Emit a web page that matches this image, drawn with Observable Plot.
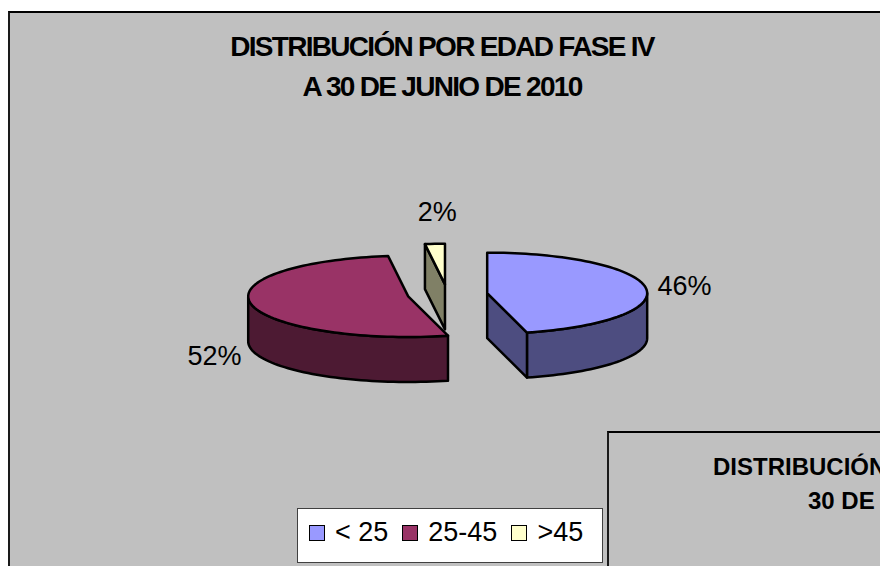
<!DOCTYPE html>
<html><head><meta charset="utf-8">
<script src="https://cdn.jsdelivr.net/npm/d3@7"></script>
<script src="https://cdn.jsdelivr.net/npm/@observablehq/plot@0.6"></script>
<style>
html,body{margin:0;padding:0;background:#fff;width:880px;height:566px;overflow:hidden;font-family:"Liberation Sans",Arial,sans-serif;}
#page{position:relative;width:880px;height:566px;overflow:hidden;}
#frame{position:absolute;left:8px;top:11px;width:900px;height:600px;background:#c0c0c0;border-left:2px solid #1a1a1a;border-top:2px solid #000;box-sizing:border-box;}
#title{position:absolute;left:0;top:27px;width:884px;text-align:center;font-weight:bold;font-size:28px;letter-spacing:-1.7px;line-height:40px;color:#000;}
#chart{position:absolute;left:0;top:0;}
#legend{position:absolute;left:297px;top:508px;width:306px;height:55px;box-sizing:border-box;border:1px solid #404040;background:#fff;display:flex;align-items:center;padding-left:11px;padding-bottom:6px;font-size:27px;line-height:27px;}
.sw{width:14px;height:14px;border:1.5px solid #000;margin-right:10px;}
.it{display:flex;align-items:center;margin-right:14px;}
#box2{position:absolute;left:607px;top:431px;width:400px;height:200px;background:#c0c0c0;border-top:2px solid #000;border-left:2px solid #1a1a1a;box-sizing:border-box;}
.t2{position:absolute;font-weight:bold;font-size:24px;line-height:24px;white-space:nowrap;}
</style></head>
<body><div id="page">
<div id="frame"></div>
<div id="title"><div>DISTRIBUCIÓN POR EDAD FASE IV</div><div>A 30 DE JUNIO DE 2010</div></div>
<div id="chart"></div>
<div id="legend"></div>
<div id="box2"></div>
<div class="t2" style="left:713px;top:455px;">DISTRIBUCIÓN</div>
<div class="t2" style="left:808px;top:489px;">30 DE</div>
</div>
<script>
// ---- data ----
const categories = ["< 25", "25-45", ">45"];
const values = [46, 52, 2];
const labels = ["46%", "52%", "2%"];
const topColors = ["#9999ff", "#993366", "#ffffcc"];
const sideColors = ["#4d4d80", "#4d1a33", "#808066"];

// ---- geometry (unit pie: x = sin a, y = -cos a, y downward) ----
const CX = 447, CY = 294, RX = 160, RY = 40.6;
const EXPLODE = 0.25, THICK = 45 / RY;
const total = d3.sum(values);
let acc = 0;
const slices = values.map((v, i) => {
  const a0 = acc / total * 2 * Math.PI; acc += v;
  const a1 = acc / total * 2 * Math.PI;
  return {i, a0, a1, mid: (a0 + a1) / 2};
});
function geom(s) {
  const ox = EXPLODE * Math.sin(s.mid), oy = -EXPLODE * Math.cos(s.mid);
  const P = (a, dz = 0, r = 1) => ({x: ox + r * Math.sin(a), y: oy - r * Math.cos(a) + dz});
  const C = (dz = 0) => ({x: ox, y: oy + dz});
  const arc = (b0, b1, dz = 0) => {
    const n = Math.max(2, Math.ceil((b1 - b0) / (Math.PI / 90)));
    return d3.range(n + 1).map(k => P(b0 + (b1 - b0) * k / n, dz));
  };
  return {P, C, arc};
}
const faces = [];
for (const i of [2, 1, 0]) {
  const s = slices[i];
  const {P, C, arc} = geom(s);
  const r0 = Math.max(s.a0, Math.PI / 2), r1 = Math.min(s.a1, 3 * Math.PI / 2);
  if (r1 > r0) faces.push({fill: sideColors[i], pts: [...arc(r0, r1), ...arc(r0, r1, THICK).reverse()]});
  if (Math.sin(s.a0) < -1e-6) faces.push({fill: sideColors[i], pts: [C(), P(s.a0), P(s.a0, THICK), C(THICK)]});
  if (Math.sin(s.a1) > 1e-6) faces.push({fill: sideColors[i], pts: [C(), P(s.a1), P(s.a1, THICK), C(THICK)]});
  faces.push({fill: topColors[i], pts: [C(), ...arc(s.a0, s.a1)]});
}
const labelStyle = [
  {textAnchor: "start", dx: 2, dy: -1},
  {textAnchor: "end", dx: 0, dy: 52},
  {textAnchor: "middle", dx: 3, dy: -29}
];
const labelMarks = slices.map(s => {
  const {P} = geom(s);
  const p = P(s.mid, 0, 1.06);
  return Plot.text([{x: p.x, y: p.y, t: labels[s.i]}], {
    x: "x", y: "y", text: "t", fontSize: 27, fill: "#000",
    fontFamily: "Liberation Sans, Arial, sans-serif",
    textAnchor: labelStyle[s.i].textAnchor, dx: labelStyle[s.i].dx, dy: labelStyle[s.i].dy
  });
});

const plot = Plot.plot({
  width: 880, height: 566, margin: 0,
  x: {domain: [-1, 1], range: [CX - RX, CX + RX], axis: null},
  y: {domain: [-1, 1], range: [CY - RY, CY + RY], axis: null},
  style: {background: "transparent", overflow: "visible"},
  marks: [
    ...faces.map(f => Plot.line(f.pts, {x: "x", y: "y", fill: f.fill, stroke: "#000", strokeWidth: 2.5, curve: "linear-closed", strokeLinejoin: "round"})),
    ...labelMarks
  ]
});
document.getElementById("chart").appendChild(plot);

// legend
const lg = document.getElementById("legend");
categories.forEach((c, i) => {
  const it = document.createElement("div"); it.className = "it";
  const sw = document.createElement("div"); sw.className = "sw"; sw.style.background = topColors[i];
  const tx = document.createElement("span"); tx.textContent = c;
  it.appendChild(sw); it.appendChild(tx); lg.appendChild(it);
});
</script>
</body></html>
